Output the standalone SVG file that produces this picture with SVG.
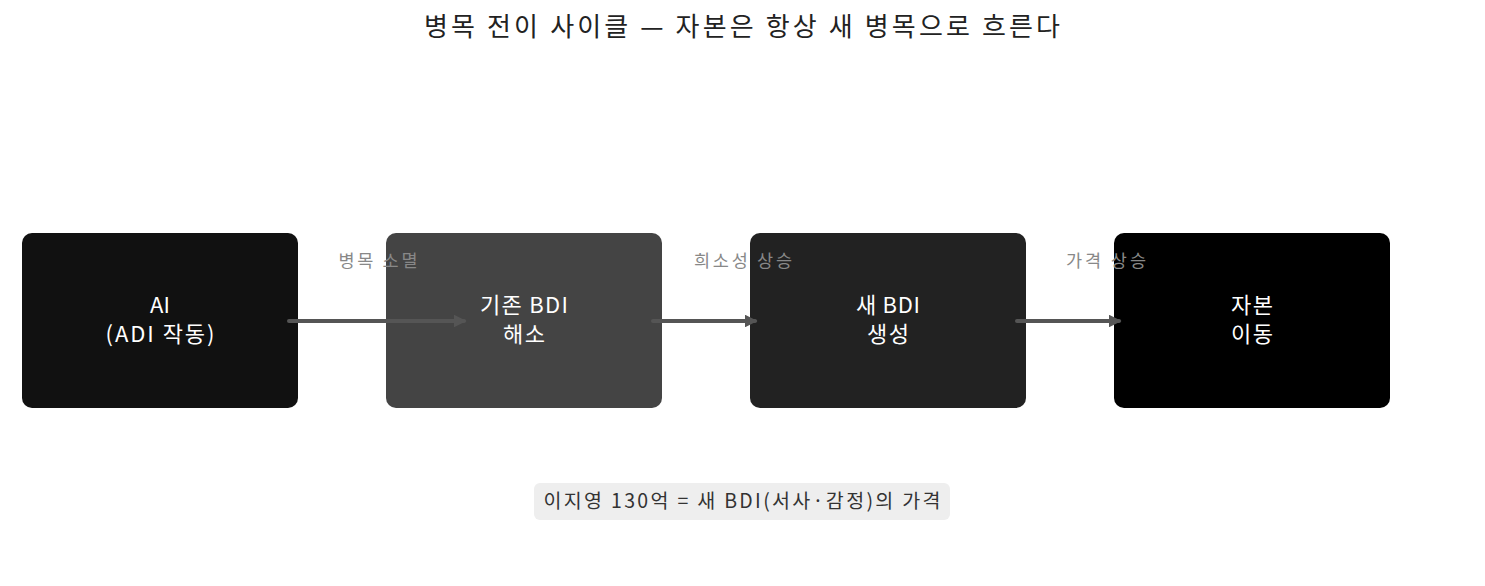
<svg xmlns="http://www.w3.org/2000/svg" width="1485" height="586" viewBox="0 0 1485 586">
<defs>
<style>
text{font-family:"Noto Sans CJK KR","Noto Sans",sans-serif;}
.title{font-size:26px;fill:#222;text-anchor:middle;}
.nt{font-size:22px;fill:#fff;text-anchor:middle;}
.el{font-size:17.5px;fill:#888;text-anchor:middle;}
.edge{stroke:#555;stroke-width:4;fill:none;stroke-linecap:round;}
.note{font-size:19.5px;fill:#333;text-anchor:middle;}
</style>
<marker id="ah" viewBox="0 0 10 10" refX="8" refY="5" markerWidth="3.2" markerHeight="3.2" orient="auto">
<path d="M0,0 L10,5 L0,10 z" fill="#555"/>
</marker>
</defs>
<rect width="1485" height="586" fill="#fff"/>
<text class="title" x="742" y="36" textLength="636" lengthAdjust="spacing">병목 전이 사이클 — 자본은 항상 새 병목으로 흐른다</text>
<g id="node-ai"><rect x="22" y="233" width="276" height="175" rx="10" fill="#111"/><text class="nt" x="160" y="313" textLength="20" lengthAdjust="spacing">AI</text><text class="nt" x="160" y="342" textLength="109" lengthAdjust="spacing">(ADI 작동)</text></g>
<g id="node-old"><rect x="386" y="233" width="276" height="175" rx="10" fill="#444"/><text class="nt" x="524" y="313" textLength="88" lengthAdjust="spacing">기존 BDI</text><text class="nt" x="524" y="342" textLength="42" lengthAdjust="spacing">해소</text></g>
<g id="node-new"><rect x="750" y="233" width="276" height="175" rx="10" fill="#222"/><text class="nt" x="888" y="313" textLength="64" lengthAdjust="spacing">새 BDI</text><text class="nt" x="888" y="342" textLength="42" lengthAdjust="spacing">생성</text></g>
<g id="node-cap"><rect x="1114" y="233" width="276" height="175" rx="10" fill="#000"/><text class="nt" x="1252" y="313" textLength="42" lengthAdjust="spacing">자본</text><text class="nt" x="1252" y="342" textLength="42" lengthAdjust="spacing">이동</text></g>
<g id="connectors">
<line class="edge" x1="289" y1="321" x2="464" y2="321" marker-end="url(#ah)"/>
<line class="edge" x1="653" y1="321" x2="755" y2="321" marker-end="url(#ah)"/>
<line class="edge" x1="1017" y1="321" x2="1119" y2="321" marker-end="url(#ah)"/>
<text class="el" x="378" y="267" textLength="79" lengthAdjust="spacing">병목 소멸</text>
<text class="el" x="743" y="267" textLength="98" lengthAdjust="spacing">희소성 상승</text>
<text class="el" x="1106" y="267" textLength="80" lengthAdjust="spacing">가격 상승</text>
</g>
<g id="note"><rect x="534" y="483" width="416" height="37" rx="6" fill="#eee"/><text class="note" x="742" y="508" textLength="397" lengthAdjust="spacing">이지영 130억 = 새 BDI(서사·감정)의 가격</text></g>
</svg>
